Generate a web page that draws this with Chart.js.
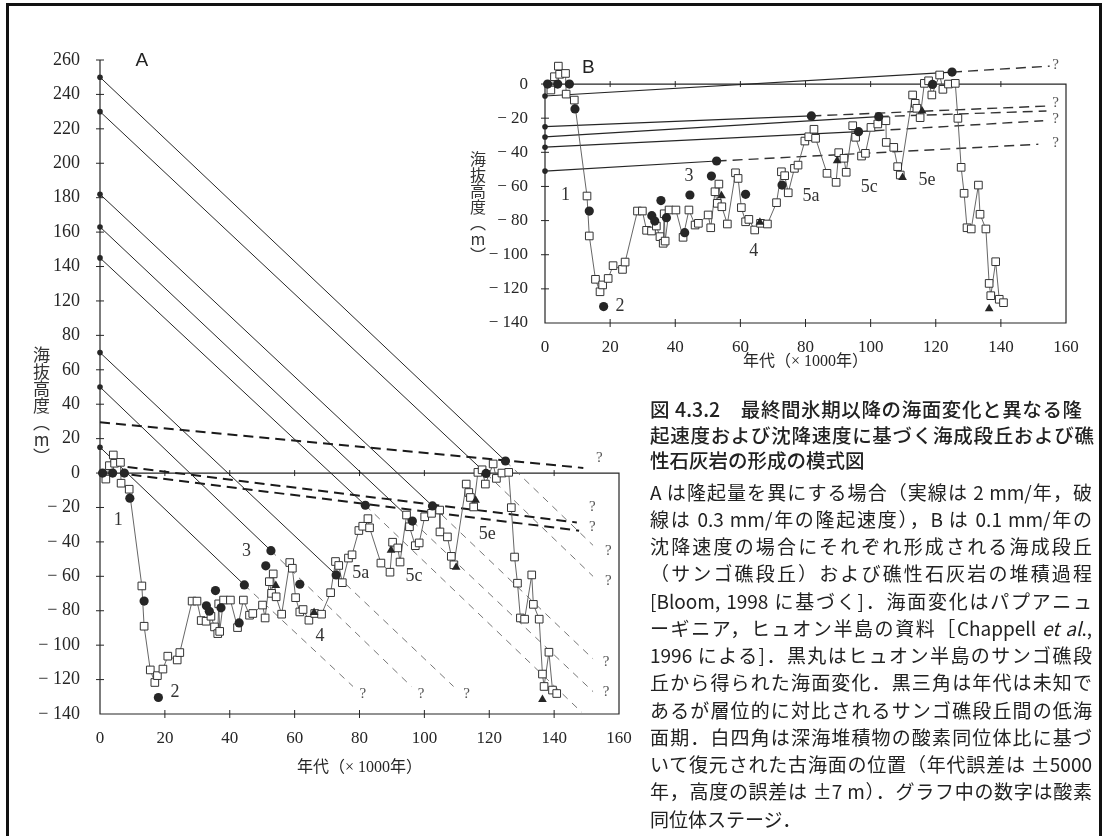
<!DOCTYPE html>
<html>
<head>
<meta charset="utf-8">
<script src="https://cdn.jsdelivr.net/npm/chart.js@4.4.0/dist/chart.umd.min.js"></script>
<style>
html, body { margin: 0; padding: 0; background: #fff; }
#page { position: relative; width: 1102px; height: 836px; overflow: hidden; background: #fff; }
#frame { position: absolute; left: 6px; top: 3px; width: 1096px; height: 850px; border: 3px solid #111; box-sizing: border-box; }
.wrap { position: absolute; }
#wrapA { left: 0; top: 0; width: 640px; height: 800px; }
#wrapB { left: 460px; top: 0; width: 640px; height: 400px; }
.ytitle { position: absolute; writing-mode: vertical-rl; text-orientation: upright; font-family: "Noto Sans CJK JP"; color: #333; line-height: 1; }
#caption { position: absolute; left: 650px; top: 396px; font-family: "Noto Sans CJK JP"; color: #222; }
.tl { font-size: 19.5px; font-weight: 500; height: 25.5px; line-height: 25.5px; width: 444px; text-align: justify; text-align-last: justify; }
.bl { font-size: 19px; height: 27.25px; line-height: 27.25px; width: 442px; text-align: justify; text-align-last: justify; }
.last { text-align-last: left; }
#body { margin-top: 5px; }
</style>
</head>
<body>
<div id="page">
  <div id="frame"></div>
  <div class="wrap" id="wrapA"><canvas id="chartA" width="640" height="800"></canvas></div>
  <div class="wrap" id="wrapB"><canvas id="chartB" width="640" height="400"></canvas></div>
  <div class="ytitle" style="left:33px; top:346px; font-size:17px;">海抜高度（m）</div>
  <div class="ytitle" style="left:470px; top:151px; font-size:16px;">海抜高度（m）</div>
  <div id="caption">
    <div class="tl" style="width:432px">図 4.3.2　最終間氷期以降の海面変化と異なる隆</div>
    <div class="tl">起速度および沈降速度に基づく海成段丘および礁</div>
    <div class="tl last">性石灰岩の形成の模式図</div>
    <div id="body">
      <div class="bl">A は隆起量を異にする場合（実線は 2 mm/年，破</div>
      <div class="bl">線は 0.3 mm/年の隆起速度），B は 0.1 mm/年の</div>
      <div class="bl">沈降速度の場合にそれぞれ形成される海成段丘</div>
      <div class="bl">（サンゴ礁段丘）および礁性石灰岩の堆積過程</div>
      <div class="bl">[Bloom, 1998 に基づく]．海面変化はパプアニュ</div>
      <div class="bl">ーギニア，ヒュオン半島の資料［Chappell <i>et al</i>.,</div>
      <div class="bl">1996 による]．黒丸はヒュオン半島のサンゴ礁段</div>
      <div class="bl">丘から得られた海面変化．黒三角は年代は未知で</div>
      <div class="bl">あるが層位的に対比されるサンゴ礁段丘間の低海</div>
      <div class="bl">面期．白四角は深海堆積物の酸素同位体比に基づ</div>
      <div class="bl">いて復元された古海面の位置（年代誤差は ±5000</div>
      <div class="bl">年，高度の誤差は ±7 m）．グラフ中の数字は酸素</div>
      <div class="bl last">同位体ステージ．</div>
    </div>
  </div>
</div>
<script>
const INK = '#262626';
const GREY = '#555';
const SERIF = '"Liberation Serif", "DejaVu Serif", serif';
const MIXED = '"Liberation Serif", "Noto Sans CJK JP", serif';

// sea level from deep-sea oxygen isotopes (white squares), ka / m
const SEA_AGE = [1.8, 2.9, 4.1, 4.5, 6.3, 6.5, 9.0, 12.9, 13.6, 15.5, 16.9, 17.7, 19.4, 20.9, 23.8, 24.6,
  28.4, 29.9, 31.2, 32.7, 34.2, 35.3, 36.3, 36.6, 36.9, 38.1, 40.2, 42.4, 44.2, 46.1, 47.1, 50.1, 50.9,
  52.2, 52.9, 53.4, 54.3, 56.0, 58.5, 59.3, 60.3, 61.6, 62.6, 64.4, 66.2, 68.3, 71.1, 72.6, 73.6, 74.7,
  76.6, 77.7, 79.8, 81.0, 82.6, 83.1, 86.6, 89.4, 90.2, 91.8, 92.5, 94.5, 95.4, 97.2, 98.4, 100.1, 102.2,
  104.7, 104.8, 107.1, 108.3, 109.1, 112.9, 113.7, 114.2, 115.2, 116.5, 117.8, 118.8, 121.2, 122.2, 123.9,
  126.0, 126.8, 127.8, 128.7, 129.6, 130.9, 133.1, 133.6, 135.4, 136.4, 136.9, 138.4, 139.5, 140.8];
const SEA_LEVEL = [-3.5, 4.3, 10.5, 5.7, 6.2, -5.9, -9.4, -65.6, -89, -114.4, -121.7, -117.7, -113.9, -106.4, -108.6, -104.3,
  -74.4, -74.4, -85.7, -86.1, -83.2, -89.4, -93.3, -76, -92, -73.8, -73.8, -89.8, -73.8, -82.6, -81.6, -76.7, -84.2,
  -63.1, -69.9, -58.6, -71.9, -82, -52, -55.3, -72.4, -80.7, -79.3, -85.5, -81.6, -82, -69.5, -51.4, -53.7, -63.7,
  -49.4, -47.5, -33.4, -30.9, -26.5, -31.8, -52.3, -57.6, -40.2, -43.5, -51.7, -24.4, -31.2, -42.2, -40.6, -25.4, -23.4,
  -21.5, -34.2, -37.1, -48.4, -53.3, -6.4, -11.3, -14.2, -19.7, 0.4, 1.9, -6.4, 5.3, -3.1, 0,
  0.4, -20.1, -48.8, -64, -84.2, -84.9, -59.2, -76.3, -84.9, -116.8, -124, -104.1, -126.1, -128.1];

// Huon Peninsula coral terraces (black dots)
const TERRACE_AGE = [0.8, 3.9, 7.5, 9.2, 13.6, 18, 32.8, 33.7, 35.6, 37.3, 42.9, 44.5, 51.1, 52.7, 61.6, 72.8, 81.8, 96.3, 102.5, 119, 125];
const TERRACE_H = [0, 0, 0, -14.6, -74.4, -130.4, -77.1, -80.3, -68.3, -78.3, -87.1, -65, -53.9, -45.1, -64.6, -59.2, -18.7, -27.9, -19.1, -0.2, 7];

// low stands of unknown age (black triangles)
const LOW_AGE = [54.2, 66, 89.7, 109.8, 115.8, 136.4];
const LOW_H = [-65.4, -81, -44.9, -54.7, -15.8, -131.6];

const X_TICKS = [0, 20, 40, 60, 80, 100, 120, 140, 160];
const A_Y_TICKS = [-140, -120, -100, -80, -60, -40, -20, 0, 20, 40, 60, 80, 120, 140, 160, 180, 200, 220, 240, 260];
const B_Y_TICKS = [-140, -120, -100, -80, -60, -40, -20, 0];

// A: 2 mm/yr uplift lines, present height -> terrace index, then dashed extension
const A_UPLIFT_H0 = [250, 230, 182, 163, 145, 70, 50, 15];
const A_UPLIFT_TO = [20, 19, 18, 17, 16, 15, 13, 11];
const A_EXT_AGE = [152, 152, 152, 152, 148.5, 109, 96, 78];
const A_EXT_H = [-42, -60, -108, -127, -139, -124, -124, -124];
// A: 0.3 mm/yr lines (heavy dashes)
const A_SLOW_START_AGE = [0, 8.5, 9.7];
const A_SLOW_START_H = [29.5, 3.5, -1];
const A_SLOW_END_AGE = [149, 147, 147.7];
const A_SLOW_END_H = [3, -28.7, -33.5];

// B: 0.1 mm/yr subsidence lines
const B_SUB_H0 = [-7, -25, -31, -37, -51];
const B_SUB_TO = [20, 16, 18, 17, 13];
const B_EXT_AGE = [155, 154, 154, 153, 151.5];
const B_EXT_H = [10.5, -12.9, -15.8, -21.5, -35.3];

// isotope stage labels and "?" marks
const STAGE_TEXT = ['1', '2', '3', '4', '5a', '5c', '5e'];
const A_STAGE_AGE = [5.6, 23.1, 45.2, 67.8, 80.4, 96.8, 119.4];
const A_STAGE_H = [-27.7, -127.1, -45.2, -94.6, -58.1, -59.7, -35.5];
const B_STAGE_AGE = [6.3, 23, 44.2, 64.1, 81.7, 99.6, 117.3];
const B_STAGE_H = [-65, -130.4, -53.9, -98.2, -66, -60.5, -56.2];
const A_Q_AGE = [81, 99, 113, 156, 156, 156.7, 156.7, 151.8, 151.8, 153.9];
const A_Q_H = [-128.5, -128.5, -128.5, -127.5, -110, -62.6, -45.2, -31.2, -20, 8.5];
const B_Q_AGE = [156.8, 156.8, 156.8, 156.8];
const B_Q_H = [11, -11, -20.7, -34.7];

// y axis of A: label 100 is skipped, 80 -> 120 spans one tick step
class GappedScale extends Chart.LinearScale {
  static id = 'gapped';
  warp(v) { return v <= 80 ? v : v >= 120 ? v - 20 : 80 + (v - 80) / 2; }
  unwarp(u) { return u <= 80 ? u : u >= 100 ? u + 20 : 80 + (u - 80) * 2; }
  getPixelForValue(v) {
    const a = this.warp(this.min), b = this.warp(this.max);
    return this.getPixelForDecimal((this.warp(v) - a) / (b - a));
  }
  getValueForPixel(p) {
    const a = this.warp(this.min), b = this.warp(this.max);
    return this.unwarp(a + this.getDecimalForPixel(p) * (b - a));
  }
}
Chart.register(GappedScale);

function pts(ax, ay) { return ax.map((a, i) => ({ x: a, y: ay[i] })); }
function fmt(v) { return v < 0 ? '\u2212 ' + (-v) : String(v); }

function lineSet(data, extra) {
  return Object.assign({ data, showLine: true, pointRadius: 0, borderColor: INK, borderWidth: 1,
    clip: false, order: 3 }, extra);
}

function commonSets() {
  return [
    { data: pts(TERRACE_AGE, TERRACE_H), showLine: false, pointStyle: 'circle', pointRadius: 4.6,
      pointBackgroundColor: INK, pointBorderWidth: 0, clip: false, order: 0 },
    { data: pts(LOW_AGE, LOW_H), showLine: false, pointStyle: 'triangle', pointRadius: 5,
      pointBackgroundColor: INK, pointBorderWidth: 0, clip: false, order: 1 },
    { data: pts(SEA_AGE, SEA_LEVEL), showLine: true, borderColor: GREY, borderWidth: 0.9,
      pointStyle: 'rect', pointRadius: 5.4, pointBackgroundColor: '#fff', pointBorderColor: '#333',
      pointBorderWidth: 1, clip: false, order: 2 }
  ];
}

function xScale(height, titlePad) {
  return {
    type: 'linear', min: 0, max: 160,
    afterBuildTicks: s => { s.ticks = X_TICKS.map(v => ({ value: v })); },
    afterFit: s => { s.height = height; },
    grid: { display: false }, border: { display: false },
    ticks: { font: { family: SERIF, size: 17 }, color: INK, padding: 6, maxRotation: 0, autoSkip: false,
      callback: v => String(v) },
    title: { display: true, text: '年代（× 1000年）', font: { family: MIXED, size: 16 }, color: INK,
      padding: { top: 0, bottom: titlePad } }
  };
}

function yScale(type, min, max, ticks, width, pad, size) {
  return {
    type, min, max,
    afterBuildTicks: s => { s.ticks = ticks.map(v => ({ value: v })); },
    afterFit: s => { s.width = width; },
    grid: { display: false }, border: { display: false },
    ticks: { font: { family: SERIF, size }, color: INK, padding: pad, autoSkip: false, callback: fmt }
  };
}

function decor(p) {
  return {
    id: 'decor' + p.letter,
    beforeDatasetsDraw(chart) {
      const { ctx, scales: { x, y } } = chart;
      const X = v => x.getPixelForValue(v), Y = v => y.getPixelForValue(v);
      ctx.save();
      ctx.strokeStyle = INK;
      ctx.lineWidth = 1.2;
      ctx.beginPath();
      ctx.moveTo(X(0), Y(p.axisTop));
      ctx.lineTo(X(0), Y(-140));
      ctx.lineTo(X(160), Y(-140));
      ctx.lineTo(X(160), Y(0));
      ctx.lineTo(X(0), Y(0));
      ctx.stroke();
      ctx.lineWidth = 1;
      ctx.beginPath();
      X_TICKS.slice(1, -1).forEach(t => {
        ctx.moveTo(X(t), Y(-140) - 4); ctx.lineTo(X(t), Y(-140) + 4);
        ctx.moveTo(X(t), Y(0) - 3); ctx.lineTo(X(t), Y(0) + 3);
      });
      p.yTicks.slice(1).forEach(v => {
        ctx.moveTo(X(0) - 4, Y(v)); ctx.lineTo(X(0) + 4, Y(v));
      });
      ctx.stroke();
      ctx.restore();
    },
    afterDatasetsDraw(chart) {
      const { ctx, scales: { x, y } } = chart;
      const X = v => x.getPixelForValue(v), Y = v => y.getPixelForValue(v);
      ctx.save();
      ctx.textAlign = 'center';
      ctx.textBaseline = 'middle';
      ctx.fillStyle = '#333';
      ctx.font = '18px ' + SERIF;
      STAGE_TEXT.forEach((s, i) => ctx.fillText(s, X(p.stageAge[i]), Y(p.stageH[i])));
      ctx.fillStyle = GREY;
      ctx.font = '15px ' + SERIF;
      p.qAge.forEach((a, i) => ctx.fillText('?', X(a), Y(p.qH[i])));
      ctx.fillStyle = '#222';
      ctx.font = '19px "Liberation Sans", Arial, sans-serif';
      ctx.fillText(p.letter, X(p.letterAt[0]), Y(p.letterAt[1]));
      ctx.restore();
    }
  };
}

// ---------- panel A ----------
const setsA = commonSets();
A_UPLIFT_H0.forEach((h, i) => {
  const k = A_UPLIFT_TO[i];
  setsA.push(lineSet([{ x: 0, y: h }, { x: TERRACE_AGE[k], y: TERRACE_H[k] }],
    { pointRadius: [2.8, 0], pointBackgroundColor: INK, pointBorderWidth: 0 }));
  setsA.push(lineSet([{ x: TERRACE_AGE[k], y: TERRACE_H[k] }, { x: A_EXT_AGE[i], y: A_EXT_H[i] }],
    { borderColor: '#666', borderWidth: 0.9, borderDash: [7, 6], order: 4 }));
});
A_SLOW_START_AGE.forEach((a, i) => {
  setsA.push(lineSet([{ x: a, y: A_SLOW_START_H[i] }, { x: A_SLOW_END_AGE[i], y: A_SLOW_END_H[i] }],
    { borderColor: '#1a1a1a', borderWidth: 2, borderDash: [10, 6], order: 4 }));
});

new Chart(document.getElementById('chartA'), {
  type: 'scatter',
  data: { datasets: setsA },
  options: {
    responsive: false, animation: false,
    layout: { padding: { left: 0, top: 60, right: 21, bottom: 0 } },
    plugins: { legend: { display: false }, tooltip: { enabled: false } },
    scales: {
      x: xScale(86, 22.4),
      y: yScale('gapped', -140, 260, A_Y_TICKS, 100, 12, 18)
    }
  },
  plugins: [decor({ letter: 'A', axisTop: 260, yTicks: A_Y_TICKS, stageAge: A_STAGE_AGE, stageH: A_STAGE_H,
    qAge: A_Q_AGE, qH: A_Q_H, letterAt: [12.9, 259.7] })]
});

// ---------- panel B ----------
const setsB = commonSets();
B_SUB_H0.forEach((h, i) => {
  const k = B_SUB_TO[i];
  setsB.push(lineSet([{ x: 0, y: h }, { x: TERRACE_AGE[k], y: TERRACE_H[k] }],
    { pointRadius: [2.8, 0], pointBackgroundColor: INK, pointBorderWidth: 0, borderWidth: 1.2 }));
  setsB.push(lineSet([{ x: TERRACE_AGE[k], y: TERRACE_H[k] }, { x: B_EXT_AGE[i], y: B_EXT_H[i] }],
    { borderColor: '#333', borderWidth: 1.4, borderDash: [10, 6], order: 4 }));
});

new Chart(document.getElementById('chartB'), {
  type: 'scatter',
  data: { datasets: setsB },
  options: {
    responsive: false, animation: false,
    layout: { padding: { left: 0, top: 49.9, right: 34, bottom: 0 } },
    plugins: { legend: { display: false }, tooltip: { enabled: false } },
    scales: {
      x: xScale(77, 28.4),
      y: yScale('linear', -140, 20, B_Y_TICKS, 85, 9, 17)
    }
  },
  plugins: [decor({ letter: 'B', axisTop: 0, yTicks: B_Y_TICKS, stageAge: B_STAGE_AGE, stageH: B_STAGE_H,
    qAge: B_Q_AGE, qH: B_Q_H, letterAt: [13.3, 9.8] })]
});
</script>
</body>
</html>
